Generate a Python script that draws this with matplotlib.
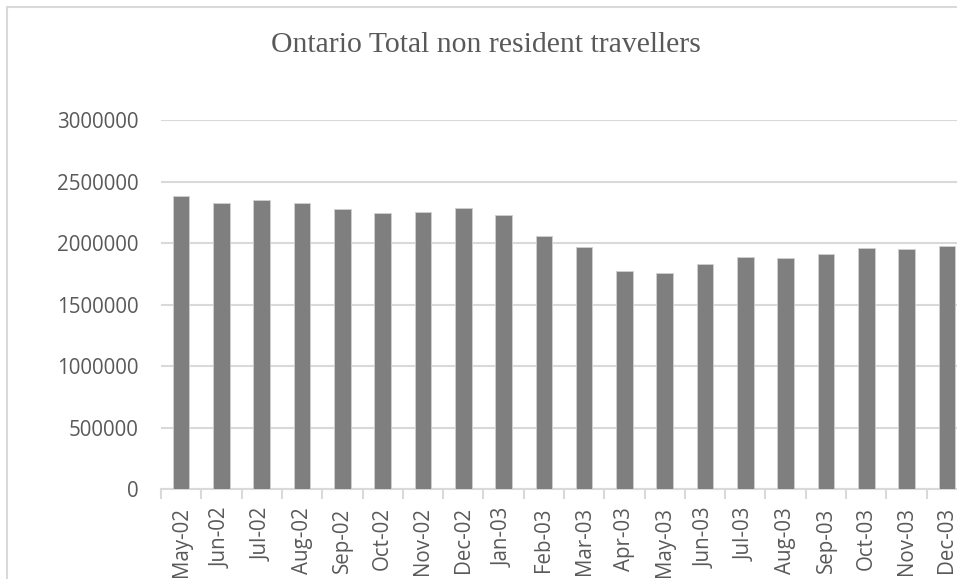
import matplotlib
matplotlib.use("Agg")
import matplotlib.pyplot as plt
from matplotlib.patches import Rectangle

categories = ["May-02", "Jun-02", "Jul-02", "Aug-02", "Sep-02", "Oct-02", "Nov-02",
              "Dec-02", "Jan-03", "Feb-03", "Mar-03", "Apr-03", "May-03", "Jun-03",
              "Jul-03", "Aug-03", "Sep-03", "Oct-03", "Nov-03", "Dec-03"]
travellers = [2385000, 2328000, 2348000, 2328000, 2275000, 2245000, 2255000,
              2288000, 2231000, 2060000, 1968000, 1771000, 1755000, 1830000,
              1887000, 1877000, 1911000, 1963000, 1952000, 1974000]
yticks = [0, 500000, 1000000, 1500000, 2000000, 2500000, 3000000]
title = "Ontario Total non resident travellers"

W, H = 957, 579
fig = plt.figure(figsize=(W / 100, H / 100), dpi=100)
fig.patch.set_facecolor("white")

# chart border (cropped on right/bottom)
fig.patches.append(Rectangle((7 / W, -0.1), 1.2, (579 - 7) / H + 0.1, transform=fig.transFigure,
                             fill=False, edgecolor="#d9d9d9", linewidth=1.5))

left, right = 161, 967
top_px, bot_px = 120, 489.3
ax = fig.add_axes([left / W, 1 - bot_px / H, (right - left) / W, (bot_px - top_px) / H])
n = len(categories)
x = list(range(n))
ax.bar(x, travellers, width=0.41, color="#7f7f7f", edgecolor="#d0d0d0", linewidth=0.6, zorder=3)
ax.set_xlim(-0.5, n - 0.5)
ax.set_ylim(0, 3000000)
ax.set_yticks(yticks)
ax.set_yticklabels([str(v) for v in yticks])
ax.yaxis.grid(True, color="#d9d9d9", linewidth=1.5, zorder=0)
ax.set_axisbelow(True)

for s in ["top", "right", "left"]:
    ax.spines[s].set_visible(False)
ax.spines["bottom"].set_color("#d9d9d9")
ax.spines["bottom"].set_linewidth(1.5)

ax.set_xticks([i - 0.5 for i in range(n + 1)], minor=False)
ax.set_xticklabels([])
ax.tick_params(axis="x", which="major", length=7, color="#d9d9d9", width=1.5)
ax.set_xticks(x, minor=True)
ax.set_xticklabels(categories, minor=True, rotation=90, fontsize=14.8,
                   family="Open Sans", color="#595959")
ax.tick_params(axis="x", which="minor", length=0, pad=13)
ax.tick_params(axis="y", length=0, pad=16, labelsize=14.8, labelcolor="#595959")
for lbl in ax.get_yticklabels():
    lbl.set_family("Open Sans")

fig.text(486 / W, 1 - 45 / H, title, ha="center", va="center", fontsize=21.4,
         family="Liberation Serif", color="#595959")

fig.savefig("out.png", dpi=100)
